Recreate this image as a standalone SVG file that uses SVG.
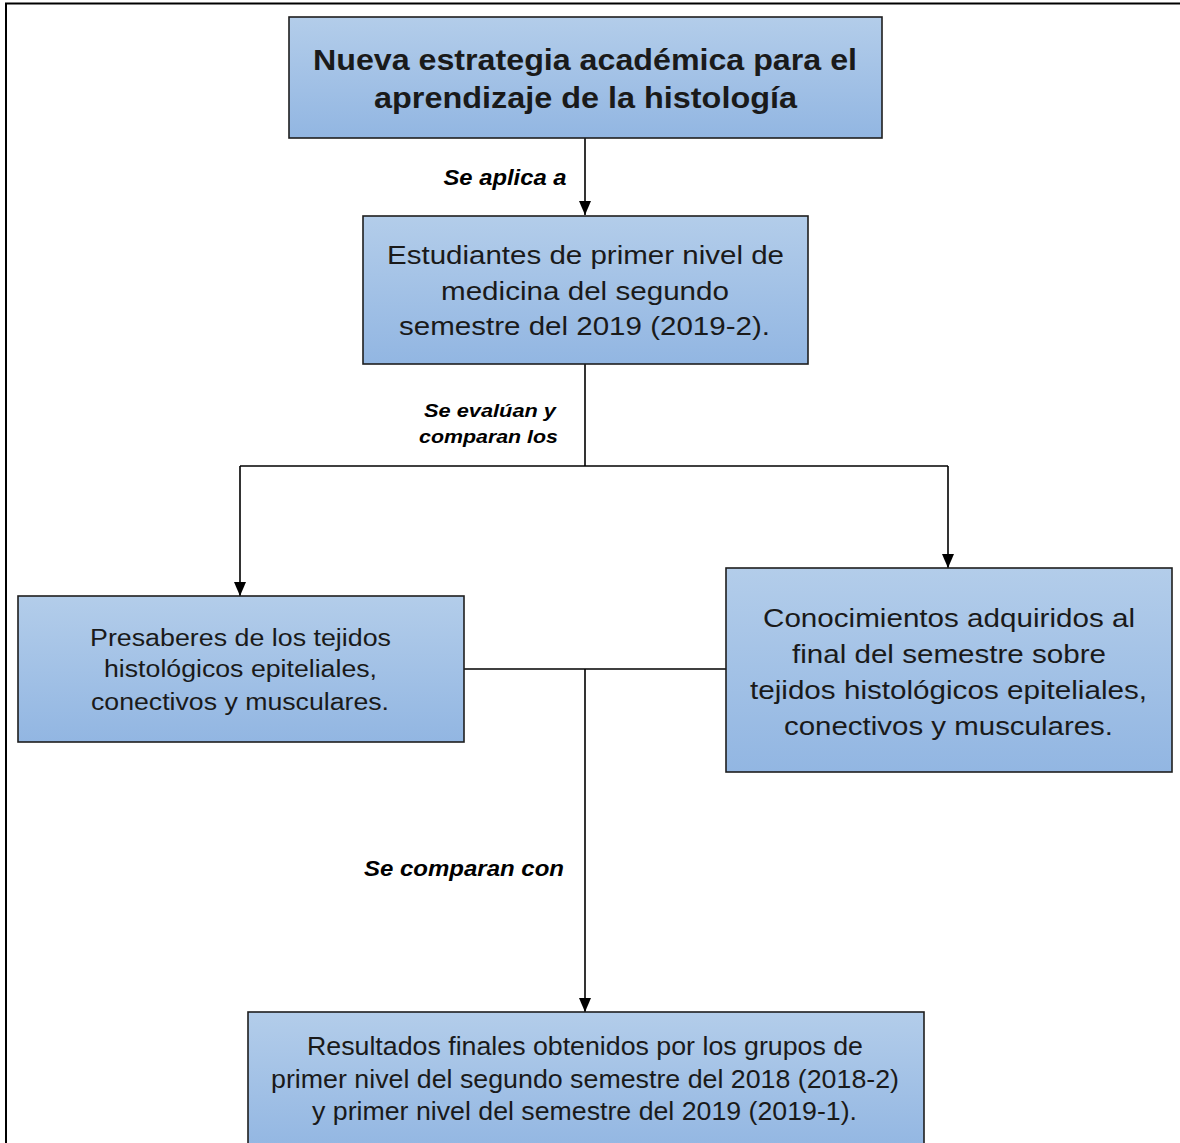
<svg xmlns="http://www.w3.org/2000/svg" width="1180" height="1143" viewBox="0 0 1180 1143">
<defs>
<linearGradient id="g" x1="0" y1="0" x2="0" y2="1">
<stop offset="0" stop-color="#b3cdea"/>
<stop offset="1" stop-color="#92b6e2"/>
</linearGradient>
<marker id="arr" viewBox="0 0 14 12" refX="14" refY="6" markerWidth="14" markerHeight="12" markerUnits="userSpaceOnUse" orient="auto">
<path d="M0,0 L14,6 L0,12 z" fill="#000"/>
</marker>
<style>
.box{fill:url(#g);stroke:#1e1e1e;stroke-width:1.6}
.t{font-family:"Liberation Sans",Arial,sans-serif;fill:#1a1a1a;text-anchor:middle}
.lbl{font-family:"Liberation Sans",Arial,sans-serif;font-weight:bold;font-style:italic;fill:#000;text-anchor:middle}
.c{fill:none;stroke:#000;stroke-width:1.6}
</style>
</defs>
<rect x="0" y="0" width="1180" height="1143" fill="#fff"/>
<path d="M6,1143 V3.5 H1180" fill="none" stroke="#000" stroke-width="2"/>

<g id="connectors">
<path class="c" d="M585,138 V215" marker-end="url(#arr)"/>
<path class="c" d="M585,364 V466"/>
<path class="c" d="M240,466 H948"/>
<path class="c" d="M240,466 V596" marker-end="url(#arr)"/>
<path class="c" d="M948,466 V568" marker-end="url(#arr)"/>
<path class="c" d="M464,669 H726"/>
<path class="c" d="M585,669 V1012" marker-end="url(#arr)"/>
<text class="lbl" x="505" y="185" font-size="22" textLength="123" lengthAdjust="spacingAndGlyphs">Se aplica a</text>
<text class="lbl" x="490" y="417" font-size="18" textLength="132" lengthAdjust="spacingAndGlyphs">Se evalúan y</text>
<text class="lbl" x="488.5" y="443" font-size="18" textLength="139" lengthAdjust="spacingAndGlyphs">comparan los</text>
<text class="lbl" x="464" y="876" font-size="22" textLength="200" lengthAdjust="spacingAndGlyphs">Se comparan con</text>
</g>

<g id="n1">
<rect class="box" x="289" y="17" width="593" height="121"/>
<text class="t" x="585" y="70" font-size="29" font-weight="bold" textLength="544" lengthAdjust="spacingAndGlyphs">Nueva estrategia académica para el</text>
<text class="t" x="585.5" y="108" font-size="29" font-weight="bold" textLength="423" lengthAdjust="spacingAndGlyphs">aprendizaje de la histología</text>
</g>

<g id="n2">
<rect class="box" x="363" y="216" width="445" height="148"/>
<text class="t" x="585.5" y="264" font-size="26" textLength="397" lengthAdjust="spacingAndGlyphs">Estudiantes de primer nivel de</text>
<text class="t" x="585" y="300" font-size="26" textLength="288" lengthAdjust="spacingAndGlyphs">medicina del segundo</text>
<text class="t" x="584.5" y="335" font-size="26" textLength="371" lengthAdjust="spacingAndGlyphs">semestre del 2019 (2019-2).</text>
</g>

<g id="n3">
<rect class="box" x="18" y="596" width="446" height="146"/>
<text class="t" x="240.5" y="646" font-size="23" textLength="301" lengthAdjust="spacingAndGlyphs">Presaberes de los tejidos</text>
<text class="t" x="240.5" y="677" font-size="23" textLength="273" lengthAdjust="spacingAndGlyphs">histológicos epiteliales,</text>
<text class="t" x="240" y="710" font-size="23" textLength="298" lengthAdjust="spacingAndGlyphs">conectivos y musculares.</text>
</g>

<g id="n4">
<rect class="box" x="726" y="568" width="446" height="204"/>
<text class="t" x="949" y="627" font-size="26" textLength="372" lengthAdjust="spacingAndGlyphs">Conocimientos adquiridos al</text>
<text class="t" x="949" y="663" font-size="26" textLength="314" lengthAdjust="spacingAndGlyphs">final del semestre sobre</text>
<text class="t" x="948.5" y="699" font-size="26" textLength="397" lengthAdjust="spacingAndGlyphs">tejidos histológicos epiteliales,</text>
<text class="t" x="948.5" y="735" font-size="26" textLength="329" lengthAdjust="spacingAndGlyphs">conectivos y musculares.</text>
</g>

<g id="n5">
<rect class="box" x="248" y="1012" width="676" height="140"/>
<text class="t" x="585" y="1055" font-size="25" textLength="556" lengthAdjust="spacingAndGlyphs">Resultados finales obtenidos por los grupos de</text>
<text class="t" x="585" y="1088" font-size="25" textLength="628" lengthAdjust="spacingAndGlyphs">primer nivel del segundo semestre del 2018 (2018-2)</text>
<text class="t" x="584.5" y="1120" font-size="25" textLength="545" lengthAdjust="spacingAndGlyphs">y primer nivel del semestre del 2019 (2019-1).</text>
</g>
</svg>
